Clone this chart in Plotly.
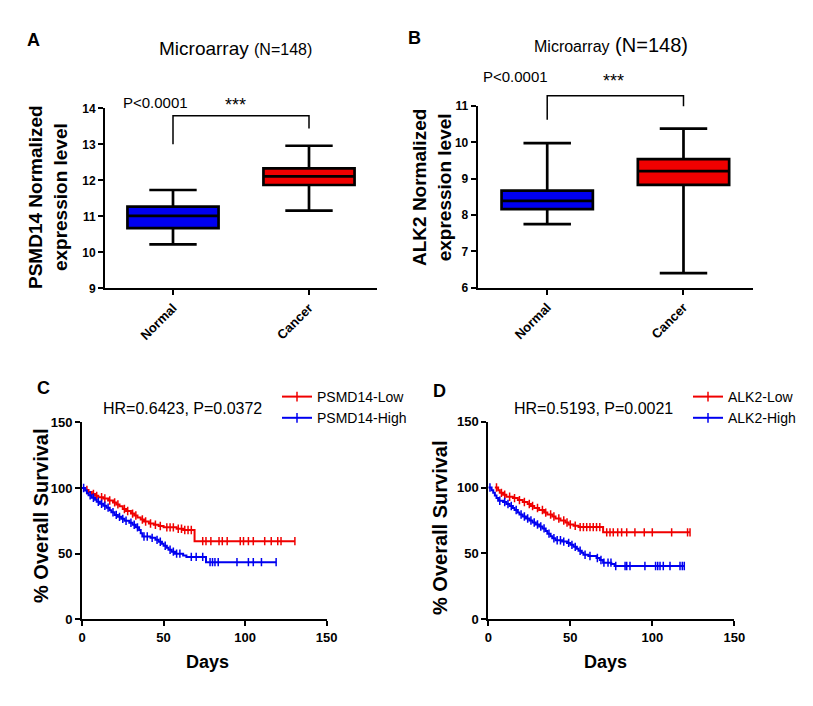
import numpy as np
import plotly.graph_objects as go

W, H = 813, 706

# ---------------- data ----------------
groups = ["Normal", "Cancer"]
# Panel A: PSMD14 box stats [Normal, Cancer]
psmd14_low = [10.22, 11.16]
psmd14_q1 = [10.67, 11.87]
psmd14_med = [11.01, 12.11]
psmd14_q3 = [11.27, 12.33]
psmd14_high = [11.73, 12.96]
psmd14_bracket = [13.0, 13.79, 13.44]   # left foot, top, right foot
# Panel B: ALK2 box stats
alk2_low = [7.75, 6.40]
alk2_q1 = [8.16, 8.83]
alk2_med = [8.39, 9.21]
alk2_q3 = [8.67, 9.54]
alk2_high = [9.98, 10.38]
alk2_bracket = [10.62, 11.28, 10.99]

# Panel C: Kaplan-Meier, PSMD14
c_low_t = [0, 2, 4, 6, 8, 10, 13, 16, 19, 21, 23, 25, 27, 30, 32, 34, 36, 38, 41, 44, 47, 50, 58, 62, 69]
c_low_s = [100, 98.5, 97, 95.5, 94, 93, 92, 90.5, 89, 87.5, 86, 84, 82.5, 80.5, 79, 77.5, 76, 74.5, 73, 72, 71, 70, 69, 68, 59.5]
c_low_cens = [3, 7, 9, 12, 14, 17, 20, 22, 26, 28, 31, 33, 37, 39, 42, 45, 48, 52, 54, 56, 59, 61, 63, 65, 67,
              74, 76, 79, 84, 86, 89, 97, 99, 102, 105, 112, 116, 120, 122, 130.5]
c_high_t = [0, 2, 3, 4, 6, 8, 9, 11, 13, 15, 17, 18, 20, 22, 24, 26, 29, 31, 33, 35, 36, 37, 42, 45, 47, 49, 50,
            52, 53, 55, 57, 62, 64, 76]
c_high_s = [100, 98, 96, 94.5, 92.5, 91, 89.5, 88, 86.5, 85, 83, 81.5, 79.5, 78, 76.5, 75, 73.5, 72, 70, 68, 65.5,
            63, 62, 60.5, 59, 57.5, 56, 54.5, 53, 51.5, 50, 48.5, 47.5, 43.5]
c_high_cens = [1, 5, 7, 10, 12, 14, 16, 19, 21, 23, 25, 27, 30, 32, 34, 38, 40, 43, 46, 48, 51, 54, 56, 58, 60,
               67, 70, 74, 78.5, 80, 81.5, 83.5, 95, 102, 105, 110, 119]

# Panel D: Kaplan-Meier, ALK2
d_low_t = [4, 6, 7, 9, 11, 15, 18, 21, 24, 26, 28, 31, 34, 36, 39, 41, 44, 47, 49, 52, 55, 70]
d_low_s = [100, 98, 96, 94.5, 93, 92, 90.5, 89, 87.5, 86, 84.5, 83, 81, 79.5, 78, 76.5, 75, 73.5, 72, 71, 70, 66]
d_low_cens = [5, 8, 10, 13, 16, 19, 22, 25, 27, 30, 33, 35, 38, 40, 43, 46, 48, 50, 53, 56, 58, 60, 62, 64, 66, 68,
              72.2, 74.2, 76.2, 78.9, 81.3, 84.4, 89.4, 95.1, 100, 111.8, 121.5, 123]
d_high_t = [0, 2, 3, 4, 5, 6, 9, 11, 13, 15, 16, 18, 19, 21, 23, 25, 27, 29, 31, 33, 35, 36, 38, 39, 41, 45, 48,
            50, 52, 54, 55, 57, 58, 61, 66, 68, 70, 75, 77]
d_high_s = [100, 98, 96, 94, 92, 90, 89, 87.5, 86, 84.5, 83, 81, 79.5, 78, 76.5, 75, 73.5, 72, 70.5, 69, 67, 65,
            63, 61.5, 60, 59, 58, 56.5, 55, 53.5, 52, 50.5, 49, 48, 46.5, 45, 43, 42, 40.5]
d_high_cens = [1, 7, 10, 12, 14, 17, 20, 22, 24, 26, 28, 30, 32, 34, 37, 40, 42, 44, 46, 49, 51, 53, 56, 59, 62,
               66.5, 68.7, 70.5, 73, 74.8, 77.7, 83.4, 84.4, 86.4, 95.5, 102, 103.3, 104.7, 106.7, 110.8, 116.9,
               118.3, 119.5]

km_ticks = [0, 50, 100, 150]

RED = "#F00000"
BLUE = "#0000F0"
FONT = "Arial, 'Liberation Sans', sans-serif"


def px(x):
    return x / W


def py(y):
    return 1 - y / H


def km_curve(times, surv, cens):
    times = np.asarray(times, float)
    surv = np.asarray(surv, float)
    pts = np.array(sorted(set(times.tolist()) | set(cens)))
    idx = np.searchsorted(times, pts, side="right") - 1
    ys = surv[idx]
    cens = np.asarray(cens, float)
    cidx = np.searchsorted(times, cens, side="right") - 1
    return pts, ys, cens, surv[cidx]


# panel geometry (pixels)
A_dom_y = (288.3, 108.3)
B_dom_y = (287.7, 106.0)
A_range = (9, 14)
B_range = (6, 11)

fig = go.Figure()

# ---- box plots ----
for (xa, ya, lo, q1, med, q3, hi) in [
    ("x", "y", psmd14_low, psmd14_q1, psmd14_med, psmd14_q3, psmd14_high),
    ("x2", "y2", alk2_low, alk2_q1, alk2_med, alk2_q3, alk2_high),
]:
    for i, (g, col) in enumerate(zip(groups, [BLUE, RED])):
        fig.add_trace(go.Box(
            x=[g], q1=[q1[i]], median=[med[i]], q3=[q3[i]],
            lowerfence=[lo[i]], upperfence=[hi[i]],
            width=0.67, whiskerwidth=0.52, fillcolor=col,
            line=dict(color="black", width=2.7), boxpoints=False,
            showlegend=False, xaxis=xa, yaxis=ya))

# ---- KM curves ----
for (xa, ya, leg, data) in [
    ("x3", "y3", "legend", [("PSMD14-Low", c_low_t, c_low_s, c_low_cens, RED),
                            ("PSMD14-High", c_high_t, c_high_s, c_high_cens, BLUE)]),
    ("x4", "y4", "legend2", [("ALK2-Low", d_low_t, d_low_s, d_low_cens, RED),
                             ("ALK2-High", d_high_t, d_high_s, d_high_cens, BLUE)]),
]:
    for name, t, s, c, col in data:
        xs, ys, cx, cy = km_curve(t, s, c)
        fig.add_trace(go.Scatter(x=xs, y=ys, mode="lines", line=dict(color=col, width=2, shape="hv"),
                                 showlegend=False, xaxis=xa, yaxis=ya))
        fig.add_trace(go.Scatter(x=cx, y=cy, mode="markers",
                                 marker=dict(symbol="line-ns", size=6, line=dict(color=col, width=1.5)),
                                 showlegend=False, xaxis=xa, yaxis=ya))
        fig.add_trace(go.Scatter(x=[None], y=[None], mode="lines+markers", name=name,
                                 line=dict(color=col, width=2),
                                 marker=dict(symbol="line-ns", size=7, line=dict(color=col, width=1.5)),
                                 legend=leg, xaxis=xa, yaxis=ya))


# ---- significance brackets (y converted from data units to paper) ----
def data_to_paper(v, dom, rng):
    y_px = dom[0] + (v - rng[0]) / (rng[1] - rng[0]) * (dom[1] - dom[0])
    return py(y_px)


for xa, br, dom, rng in [("x", psmd14_bracket, A_dom_y, A_range), ("x2", alk2_bracket, B_dom_y, B_range)]:
    p = [data_to_paper(v, dom, rng) for v in br]
    fig.add_shape(type="path", xref=xa, yref="paper",
                  path=f"M 0 {p[0]} L 0 {p[1]} L 1 {p[1]} L 1 {p[2]}",
                  line=dict(color="black", width=1.5))

axis_common = dict(showline=True, linecolor="black", linewidth=2, ticks="outside", ticklen=5,
                   tickwidth=2, tickcolor="black", showgrid=False, zeroline=False, automargin=False,
                   tickfont=dict(family=FONT, size=12, color="black", weight="bold"))

fig.update_layout(
    width=W, height=H, margin=dict(l=0, r=0, t=0, b=0, pad=0, autoexpand=False),
    paper_bgcolor="white", plot_bgcolor="white", boxmode="overlay",
    xaxis=dict(domain=[px(105), px(377)], anchor="y", type="category", range=[-0.5, 1.5],
               tickangle=-45, **axis_common),
    yaxis=dict(domain=[py(A_dom_y[0]), py(A_dom_y[1])], anchor="x", range=list(A_range), dtick=1, **axis_common),
    xaxis2=dict(domain=[px(477.7), px(753)], anchor="y2", type="category", range=[-0.51, 1.51],
                tickangle=-45, **axis_common),
    yaxis2=dict(domain=[py(B_dom_y[0]), py(B_dom_y[1])], anchor="x2", range=list(B_range), dtick=1, **axis_common),
    xaxis3=dict(domain=[px(82), px(326.7)], anchor="y3", range=[0, 150], tickvals=km_ticks, **axis_common),
    yaxis3=dict(domain=[py(619.3), py(422.3)], anchor="x3", range=[0, 150], tickvals=km_ticks, **axis_common),
    xaxis4=dict(domain=[px(488.3), px(734.3)], anchor="y4", range=[0, 150], tickvals=km_ticks, **axis_common),
    yaxis4=dict(domain=[py(619.3), py(421.7)], anchor="x4", range=[0, 150], tickvals=km_ticks, **axis_common),
    legend=dict(x=px(277), y=py(381), xanchor="left", yanchor="top", bgcolor="rgba(0,0,0,0)",
                font=dict(family=FONT, size=14, color="black"), tracegroupgap=0),
    legend2=dict(x=px(688), y=py(381), xanchor="left", yanchor="top", bgcolor="rgba(0,0,0,0)",
                 font=dict(family=FONT, size=14, color="black"), tracegroupgap=0),
)
for ax in ["xaxis", "xaxis2"]:
    fig.layout[ax].tickfont.size = 13
for ax in ["xaxis3", "yaxis3", "xaxis4", "yaxis4"]:
    fig.layout[ax].tickfont.size = 13


def ann(text, x, y, size, bold=False, angle=0):
    fig.add_annotation(text=text, x=px(x), y=py(y), xref="paper", yref="paper",
                       xanchor="center", yanchor="middle", showarrow=False, textangle=angle,
                       font=dict(family=FONT, size=size, color="black", weight="bold" if bold else "normal"))


ann("A", 33, 40, 18, True)
ann("B", 414, 38, 18, True)
ann("C", 43, 388, 18, True)
ann("D", 439, 391, 18, True)
ann("Microarray <span style='font-size:16px'>(N=148)</span>", 235, 49, 19)
ann("<span style='font-size:16px'>Microarray</span> (N=148)", 611, 45, 20)
ann("P<0.0001", 155, 102, 15)
ann("***", 235, 105, 18)
ann("P<0.0001", 515, 77, 15)
ann("***", 613, 81, 18)
ann("PSMD14 Normalized<br>expression level", 48, 197, 19, True, -90)
ann("ALK2 Normalized<br>expression level", 432, 188, 19, True, -90)
ann("HR=0.6423, P=0.0372", 182, 408, 16)
ann("HR=0.5193, P=0.0021", 593, 409, 16)
ann("% Overall Survival", 41, 516, 20, True, -90)
ann("% Overall Survival", 440, 528, 20, True, -90)
ann("Days", 207, 662, 18, True)
ann("Days", 605, 662, 18, True)

fig.write_html("out.html", config={"displayModeBar": False},
               post_script="document.body.style.margin='0px';")
